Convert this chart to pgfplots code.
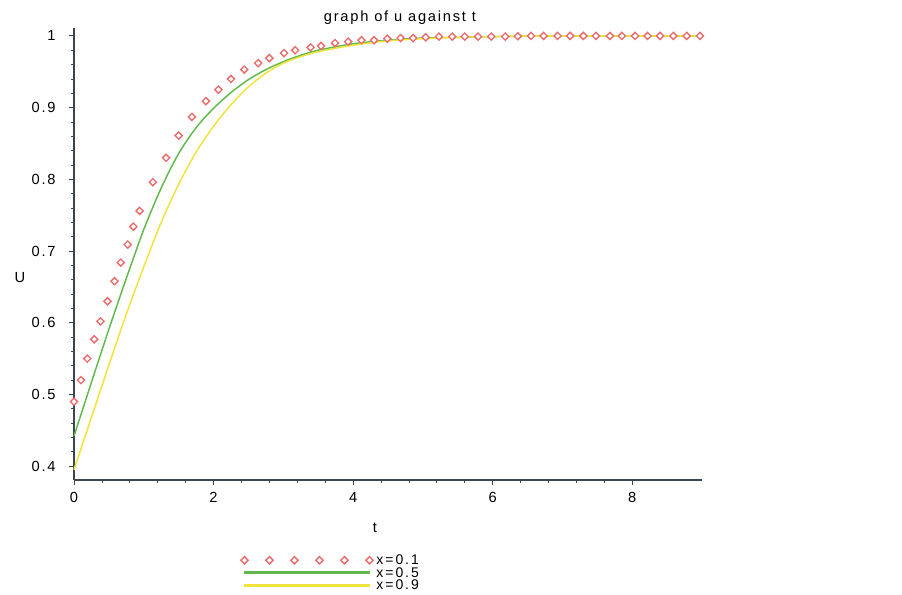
\documentclass[border=0pt]{standalone}
\usepackage{pgfplots}
\pgfplotsset{compat=1.18}
\usepackage{fontspec}
\setmainfont{Liberation Sans}
\definecolor{mred}{RGB}{238,105,105}
\definecolor{mgreen}{RGB}{95,185,75}
\definecolor{myellow}{RGB}{240,228,60}
\definecolor{axc}{RGB}{60,70,80}
\pgfplotsset{
  markleg/.style={legend image code/.code={\path[draw=none,fill=none] (0pt,-3.5pt) -- (0pt,3.5pt);\draw[##1] plot coordinates {(0pt,0pt) (18.75pt,0pt) (37.5pt,0pt) (56.25pt,0pt) (75pt,0pt) (93.75pt,0pt)};}},
  greenleg/.style={legend image code/.code={\path[draw=none,fill=none] (0pt,-3.5pt) -- (0pt,3.5pt);\fill[mgreen] (0pt,-0.6pt) rectangle (93.75pt,0.6pt);}},
  yellowleg/.style={legend image code/.code={\path[draw=none,fill=none] (0pt,-3.5pt) -- (0pt,3.5pt);\fill[myellow] (0pt,-0.6pt) rectangle (93.75pt,0.6pt);}},
}
\newcommand\wfont{\fontsize{11}{13}\selectfont\addfontfeatures{LetterSpace=12}}
\begin{document}
\begin{tikzpicture}
\begin{axis}[
  scale only axis, width=471pt, height=339pt,
  at={(0,0)}, anchor=south west,
  xmin=0, xmax=9, ymin=0.3808, ymax=1.011,
  axis lines=left, axis line style={axc, -, line width=0.8pt},
  xtick={0,2,4,6,8}, ytick={0.4,0.5,0.6,0.7,0.8,0.9,1},
  minor x tick num=4, minor y tick num=4,
  tick align=outside, major tick length=4pt, minor tick length=2.5pt,
  tick style={axc, line width=0.6pt},
  /pgf/number format/assume math mode=true,
  every tick label/.append style={font=\wfont},
  xticklabel style={yshift=-1.5pt},
  yticklabel style={/pgf/number format/fixed, /pgf/number format/precision=1, xshift=-6.25pt},
  clip=false,
  title={graph of u against t},
  title style={at={(0.519,1)}, anchor=base, yshift=-1pt, font=\wfont},
  xlabel={t}, xlabel style={at={(axis description cs:0.479,0)}, anchor=center, yshift=-35.5pt, font=\wfont},
  ylabel={U}, ylabel style={at={(axis description cs:0,0.449)}, rotate=-90, anchor=center, xshift=-40.5pt, font=\wfont},
  legend style={at={(0.259,0)}, anchor=north west, yshift=-53.25pt, draw=none, fill=none,
    font=\fontsize{10.5}{12}\selectfont\addfontfeatures{LetterSpace=14}, row sep=0pt, column sep=2pt,
    nodes={inner sep=0.5pt, text height=7.5pt, text depth=1pt}},
  legend cell align=left,
]
\addplot[only marks, mark=square*, mark size=1.9pt, mark options={rotate=45, draw=mred, fill=white, line width=1pt}, markleg]
coordinates {
(0,0.490) (0.10,0.520) (0.19,0.550) (0.29,0.577) (0.38,0.602) (0.48,0.630) (0.58,0.658) (0.67,0.684) (0.77,0.709) (0.85,0.734) (0.94,0.756)
(1.13,0.796) (1.32,0.830) (1.50,0.861) (1.69,0.887) (1.89,0.909) (2.07,0.925) (2.25,0.940) (2.44,0.953) (2.64,0.962) (2.80,0.969)
(3.01,0.976) (3.17,0.980) (3.39,0.984) (3.54,0.986) (3.74,0.990) (3.93,0.992) (4.12,0.994) (4.30,0.994) (4.49,0.996) (4.68,0.997)
(4.86,0.997) (5.04,0.998) (5.23,0.999) (5.42,0.999) (5.60,0.999) (5.79,0.999) (5.98,0.999) (6.18,0.999) (6.36,0.9995) (6.55,1.0)
(6.73,1.0) (6.93,1.0) (7.11,1.0) (7.30,1.0) (7.48,1.0) (7.68,1.0) (7.85,1.0) (8.04,1.0) (8.22,1.0) (8.40,1.0) (8.59,1.0) (8.78,1.0) (8.97,1.0)
};
\addlegendentry{x=0.1}
\addplot[mgreen, line width=1.1pt, smooth, no markers, greenleg]
coordinates {
(0,0.442) (0.25,0.517) (0.5,0.591) (0.75,0.662) (1.0,0.730) (1.25,0.788) (1.5,0.836) (1.75,0.872) (2.0,0.899) (2.25,0.921)
(2.5,0.939) (2.75,0.953) (3.0,0.964) (3.25,0.973) (3.5,0.980) (4.0,0.989) (4.5,0.994) (5.0,0.997) (5.5,0.998) (6.0,0.999)
(7.0,1.0) (9.0,1.0)
};
\addlegendentry{x=0.5}
\addplot[myellow, line width=1.1pt, smooth, no markers, yellowleg]
coordinates {
(0,0.395) (0.25,0.468) (0.5,0.541) (0.75,0.612) (1.0,0.678) (1.25,0.740) (1.5,0.793) (1.75,0.838) (2.0,0.874) (2.25,0.904)
(2.5,0.929) (2.75,0.948) (3.0,0.962) (3.25,0.971) (3.5,0.978) (4.0,0.987) (4.5,0.993) (5.0,0.996) (5.5,0.998) (6.0,0.999)
(7.0,1.0) (9.0,1.0)
};
\addlegendentry{x=0.9}
\end{axis}
\path[use as bounding box] (-55.5pt,-82.5pt) rectangle (621pt,360pt);
\end{tikzpicture}
\end{document}
